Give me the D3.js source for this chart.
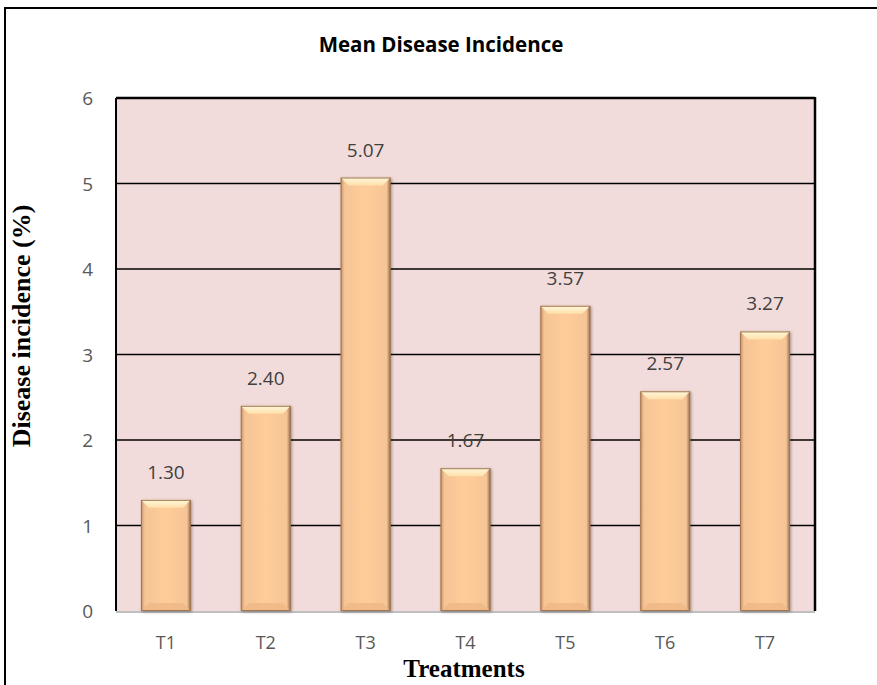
<!DOCTYPE html>
<html><head><meta charset="utf-8">
<script src="https://cdn.jsdelivr.net/npm/d3@7"></script>
<style>body{margin:0;background:#fff}svg{display:block}</style>
</head><body>
<script>
const categories = ["T1","T2","T3","T4","T5","T6","T7"];
const values = [1.30, 2.40, 5.07, 1.67, 3.57, 2.57, 3.27];
const yTicks = [0,1,2,3,4,5,6];
const title = "Mean Disease Incidence";
const xTitle = "Treatments";
const yTitle = "Disease incidence (%)";

const W = 877, H = 685;
const m = {left:116, top:98, right:62, bottom:74};
const svg = d3.select("body").append("svg").attr("width",W).attr("height",H);
const defs = svg.append("defs");
const g1 = defs.append("linearGradient").attr("id","side").attr("x1",0).attr("x2",1);
g1.append("stop").attr("offset","0%").attr("stop-color","#c8946a");
g1.append("stop").attr("offset","8%").attr("stop-color","#f6c596");
g1.append("stop").attr("offset","50%").attr("stop-color","#ffcc99");
g1.append("stop").attr("offset","92%").attr("stop-color","#f6c596");
g1.append("stop").attr("offset","100%").attr("stop-color","#8f6a4c");
const g2 = defs.append("linearGradient").attr("id","topbev").attr("x1",0).attr("x2",0).attr("y1",0).attr("y2",1);
g2.append("stop").attr("offset","0%").attr("stop-color","#fff8dc");
g2.append("stop").attr("offset","100%").attr("stop-color","#ffe0aa");
const sh = defs.append("filter").attr("id","shadow").attr("x","-20%").attr("y","-20%").attr("width","140%").attr("height","140%");
sh.append("feGaussianBlur").attr("in","SourceAlpha").attr("stdDeviation",1.5);
sh.append("feOffset").attr("dx",1).attr("dy",1).attr("result","b");
sh.append("feComponentTransfer").append("feFuncA").attr("type","linear").attr("slope",0.35);
const mg = sh.append("feMerge"); mg.append("feMergeNode"); mg.append("feMergeNode").attr("in","SourceGraphic");

svg.append("path").attr("d",`M5,${H} L5,8 L${W},8`).attr("fill","none").attr("stroke","#000").attr("stroke-width",2);

const x = d3.scaleBand().domain(categories).range([m.left, W-m.right]).paddingInner(0.5).paddingOuter(0.25);
const y = d3.scaleLinear().domain([0,6]).range([H-m.bottom, m.top]);

svg.append("rect").attr("x",m.left).attr("y",m.top).attr("width",W-m.right-m.left).attr("height",H-m.bottom-m.top).attr("fill","#f2dcdb");

svg.append("g").selectAll("line").data(yTicks.filter(d=>d>0)).join("line")
  .attr("x1",m.left).attr("x2",W-m.right).attr("y1",d=>y(d)).attr("y2",d=>y(d))
  .attr("stroke","#000").attr("stroke-width",d=>d===6?2.5:1.5);
svg.append("line").attr("x1",m.left).attr("x2",m.left).attr("y1",m.top).attr("y2",y(0)).attr("stroke","#000").attr("stroke-width",2);
svg.append("line").attr("x1",W-m.right).attr("x2",W-m.right).attr("y1",m.top-1).attr("y2",y(0)).attr("stroke","#000").attr("stroke-width",2.5);
svg.append("line").attr("x1",m.left).attr("x2",W-m.right).attr("y1",y(0)+1).attr("y2",y(0)+1).attr("stroke","#bfbfbf").attr("stroke-width",2);

const bw = x.bandwidth();
const bars = svg.append("g").selectAll("g").data(values).join("g").attr("filter","url(#shadow)");
bars.append("rect").attr("x",(d,i)=>x(categories[i])).attr("y",d=>y(d)).attr("width",bw).attr("height",d=>y(0)-y(d)).attr("fill","url(#side)");
const bev = 8;
bars.append("path").attr("d",(d,i)=>{const x0=x(categories[i]), x1=x0+bw, t=y(d);
  return `M${x0},${t} L${x1},${t} L${x1-bev},${t+bev} L${x0+bev},${t+bev} Z`;}).attr("fill","url(#topbev)");
bars.append("path").attr("d",(d,i)=>{const x0=x(categories[i]), x1=x0+bw, b=y(0);
  return `M${x0},${b} L${x1},${b} L${x1-bev},${b-bev} L${x0+bev},${b-bev} Z`;}).attr("fill","#eeb886").attr("opacity",0.8);
bars.append("rect").attr("x",(d,i)=>x(categories[i])+0.5).attr("y",d=>y(d)+0.5).attr("width",bw-1).attr("height",d=>y(0)-y(d)-1)
  .attr("fill","none").attr("stroke","#a07550").attr("stroke-width",1);

svg.append("g").selectAll("text").data(values).join("text")
  .attr("x",(d,i)=>x(categories[i])+bw/2).attr("y",d=>y(d)-21).attr("text-anchor","middle")
  .attr("font-family","Open Sans, sans-serif").attr("font-size",19).attr("fill","#404040").text(d=>d.toFixed(2));

svg.append("g").selectAll("text").data(yTicks).join("text")
  .attr("x",m.left-23).attr("y",d=>y(d)+7).attr("text-anchor","end")
  .attr("font-family","Open Sans, sans-serif").attr("font-size",19).attr("fill","#595959").text(d=>d);
svg.append("g").selectAll("text").data(categories).join("text")
  .attr("x",d=>x(d)+bw/2).attr("y",y(0)+38).attr("text-anchor","middle")
  .attr("font-family","Open Sans, sans-serif").attr("font-size",18).attr("fill","#595959").text(d=>d);

svg.append("text").attr("x",441).attr("y",52).attr("text-anchor","middle")
  .attr("font-family","Open Sans, sans-serif").attr("font-weight","bold").attr("font-size",20.5).attr("fill","#000").text(title);
svg.append("text").attr("x",464).attr("y",677).attr("text-anchor","middle")
  .attr("font-family","Liberation Serif, serif").attr("font-weight","bold").attr("font-size",25).attr("fill","#000").text(xTitle);
svg.append("text").attr("transform",`translate(30,326) rotate(-90)`).attr("text-anchor","middle")
  .attr("font-family","Liberation Serif, serif").attr("font-weight","bold").attr("font-size",26).attr("fill","#000").text(yTitle);
</script>
</body></html>
